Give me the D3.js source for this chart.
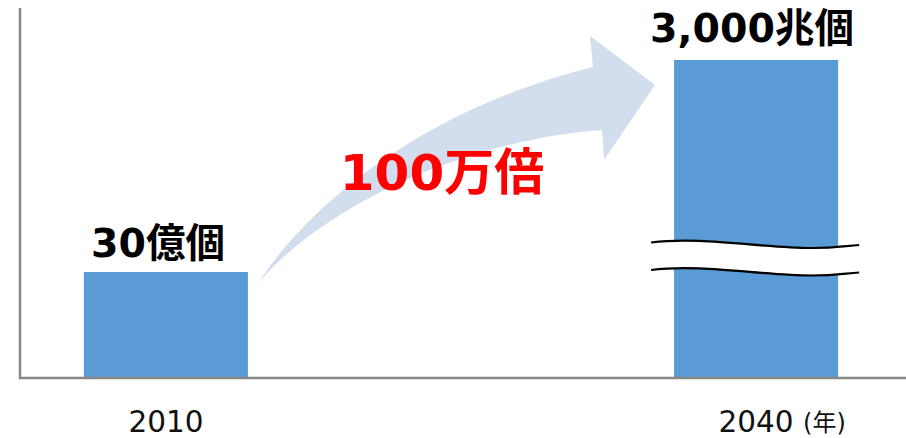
<!DOCTYPE html>
<html>
<head>
<meta charset="utf-8">
<script src="https://cdn.jsdelivr.net/npm/d3@7"></script>
<style>
  html, body { margin: 0; padding: 0; background: #fff; }
  svg { display: block; }
</style>
</head>
<body>
<svg id="chart" width="906" height="438"></svg>
<script>
// Years on the x axis and the number of connected devices for each
const years = ["2010", "2040"];
const deviceCounts = [3e9, 3e18];
const valueLabels = ["30億個", "3,000兆個"];
const unitLabel = "(年)";
const growthLabel = "100万倍";

const W = 906, H = 438;
const axisLeft = 20, axisBottom = 378, axisTop = 8;
const fontBold = "'DejaVu Sans', 'Noto Sans CJK JP', sans-serif";

const svg = d3.select("#chart");

const x = d3.scaleBand()
  .domain(years)
  .range([16, W])
  .paddingInner(0.722)
  .paddingOuter(0.115);

// Broken value axis: a short linear segment for small counts, a compressed one above the break
const y = d3.scaleLinear()
  .domain([0, 4e9, 3.88e18])
  .range([axisBottom - 1, 237, axisTop]);

// Curved growth arrow behind the bars
const arrow = d3.path();
arrow.moveTo(258, 283);
arrow.bezierCurveTo(320, 190, 440, 105, 593, 67);
arrow.lineTo(590, 36);
arrow.lineTo(655, 85);
arrow.lineTo(604, 160);
arrow.lineTo(602, 130);
arrow.bezierCurveTo(470, 140, 330, 200, 258, 283);
arrow.closePath();
svg.append("path")
  .attr("d", arrow.toString())
  .attr("fill", "#D2DDEE");

// Bars
svg.selectAll("rect.bar")
  .data(years)
  .join("rect")
  .attr("class", "bar")
  .attr("x", d => x(d))
  .attr("width", x.bandwidth())
  .attr("y", (d, i) => y(deviceCounts[i]))
  .attr("height", (d, i) => y(0) - y(deviceCounts[i]))
  .attr("fill", "#5B9BD5");

// Axis break across the tall bar: a white band bounded by two wavy lines
const breakX0 = x("2040") - 23, breakX1 = x("2040") + x.bandwidth() + 21;
const gap = 27.5;
const waveTop = (off) =>
  `M${breakX0},${242.5 + off}` +
  `C${breakX0 + 50},${236 + off} ${breakX0 + 110},${248 + off} ${breakX0 + 160},${248 + off}` +
  `C${breakX0 + 185},${248 + off} ${breakX1 - 15},${246 + off} ${breakX1},${245 + off}`;
const waveBack = (off) =>
  `L${breakX1},${245 + off}` +
  `C${breakX1 - 15},${246 + off} ${breakX0 + 185},${248 + off} ${breakX0 + 160},${248 + off}` +
  `C${breakX0 + 110},${248 + off} ${breakX0 + 50},${236 + off} ${breakX0},${242.5 + off}Z`;
svg.append("path")
  .attr("d", waveTop(0) + waveBack(gap))
  .attr("fill", "#fff");
[0, gap].forEach(off => svg.append("path")
  .attr("d", waveTop(off))
  .attr("fill", "none")
  .attr("stroke", "#000")
  .attr("stroke-width", 2.2));

// Axis lines
svg.append("line")
  .attr("x1", axisLeft).attr("x2", axisLeft)
  .attr("y1", axisTop).attr("y2", axisBottom + 1)
  .attr("stroke", "#878787").attr("stroke-width", 2.5);
svg.append("line")
  .attr("x1", axisLeft - 1).attr("x2", W)
  .attr("y1", axisBottom).attr("y2", axisBottom)
  .attr("stroke", "#878787").attr("stroke-width", 2.5);

// Year labels
const xAxis = svg.append("g")
  .attr("transform", `translate(0,${axisBottom})`)
  .call(d3.axisBottom(x).tickSize(0).tickPadding(0));
xAxis.select(".domain").remove();
xAxis.selectAll("text")
  .attr("y", 54)
  .attr("dy", 0)
  .attr("font-family", "'DejaVu Sans', sans-serif")
  .attr("font-size", 29.5)
  .attr("fill", "#111");

svg.append("text")
  .attr("x", x("2040") + x.bandwidth() / 2 + 47)
  .attr("y", axisBottom + 53)
  .attr("font-family", fontBold)
  .attr("font-size", 24)
  .attr("fill", "#111")
  .text(unitLabel);

// Value labels above the bars
svg.selectAll("text.value")
  .data(years)
  .join("text")
  .attr("class", "value")
  .attr("x", (d, i) => x(d) + x.bandwidth() / 2 + (i === 0 ? -8 : -4))
  .attr("y", (d, i) => y(deviceCounts[i]) - (i === 0 ? 15 : 18))
  .attr("text-anchor", "middle")
  .attr("font-family", fontBold)
  .attr("font-weight", "bold")
  .attr("font-size", 39.5)
  .attr("fill", "#000")
  .text((d, i) => valueLabels[i]);

// Growth factor label on the arrow
svg.append("text")
  .attr("x", 442)
  .attr("y", 190)
  .attr("text-anchor", "middle")
  .attr("font-family", fontBold)
  .attr("font-weight", "bold")
  .attr("font-size", 50)
  .attr("fill", "#FF0000")
  .text(growthLabel);
</script>
</body>
</html>
